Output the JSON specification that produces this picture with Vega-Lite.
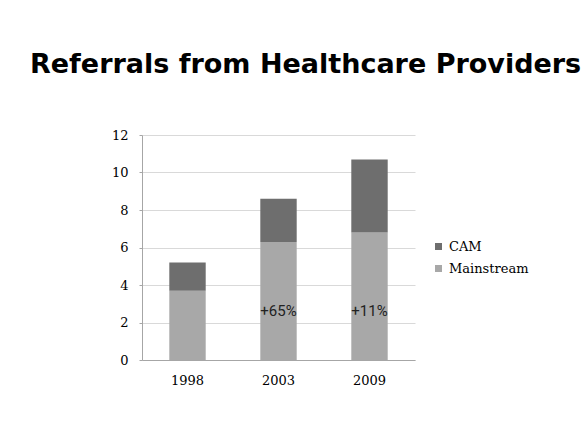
{
  "$schema": "https://vega.github.io/schema/vega-lite/v6.json",
  "autosize": {"type": "none"},
  "width": 273,
  "height": 225,
  "padding": {"left": 142, "top": 135, "right": 173, "bottom": 84},
  "background": "white",
  "title": {
    "text": "Referrals from Healthcare Providers",
    "anchor": "start",
    "frame": "group",
    "dx": -112,
    "offset": 50,
    "font": "DejaVu Sans",
    "fontSize": 27,
    "fontWeight": "bold",
    "color": "#000000"
  },
  "config": {
    "view": {"stroke": null},
    "axis": {"labelColor": "#000000", "labelFont": "DejaVu Serif", "labelFontSize": 13, "domainColor": "#a6a6a6", "tickColor": "#a6a6a6", "gridColor": "#d9d9d9"}
  },
  "datasets": {
    "bars": [
      {"year": "1998", "series": "Mainstream", "value": 3.7},
      {"year": "1998", "series": "CAM", "value": 1.5},
      {"year": "2003", "series": "Mainstream", "value": 6.3},
      {"year": "2003", "series": "CAM", "value": 2.3},
      {"year": "2009", "series": "Mainstream", "value": 6.8},
      {"year": "2009", "series": "CAM", "value": 3.9}
    ],
    "labels": [
      {"year": "2003", "label": "+65%"},
      {"year": "2009", "label": "+11%"}
    ]
  },
  "layer": [
    {
      "data": {"name": "bars"},
      "mark": {"type": "bar", "width": {"band": 0.4}},
      "encoding": {
        "x": {
          "field": "year",
          "type": "nominal",
          "scale": {"paddingInner": 0, "paddingOuter": 0},
          "axis": {"title": null, "labelAngle": 0, "ticks": false, "labelPadding": 14, "grid": false}
        },
        "y": {
          "field": "value",
          "type": "quantitative",
          "stack": "zero",
          "scale": {"domain": [0, 12], "nice": false},
          "axis": {"title": null, "values": [0, 2, 4, 6, 8, 10, 12], "labelOverlap": false, "labelFlush": false, "tickSize": 3, "labelPadding": 11, "grid": true}
        },
        "color": {
          "field": "series",
          "type": "nominal",
          "scale": {"domain": ["CAM", "Mainstream"], "range": ["#6e6e6e", "#a8a8a8"]},
          "legend": {
            "title": null,
            "orient": "none",
            "legendX": 290,
            "legendY": 105,
            "symbolType": "square",
            "symbolSize": 49,
            "symbolStrokeWidth": 0,
            "labelFont": "DejaVu Serif",
            "labelFontSize": 13,
            "labelColor": "#000000",
            "labelOffset": 4,
            "rowPadding": 8
          }
        },
        "order": {"field": "series", "sort": "descending"}
      }
    },
    {
      "data": {"name": "labels"},
      "mark": {"type": "text", "font": "Roboto", "fontSize": 15, "color": "#222222"},
      "encoding": {
        "x": {"field": "year", "type": "nominal", "axis": {"title": null, "labelAngle": 0, "ticks": false, "labelPadding": 14, "grid": false}},
        "y": {"datum": 2.6, "type": "quantitative", "axis": {"title": null, "values": [0, 2, 4, 6, 8, 10, 12], "labelOverlap": false, "labelFlush": false, "tickSize": 3, "labelPadding": 11, "grid": true}},
        "text": {"field": "label"}
      }
    }
  ]
}
